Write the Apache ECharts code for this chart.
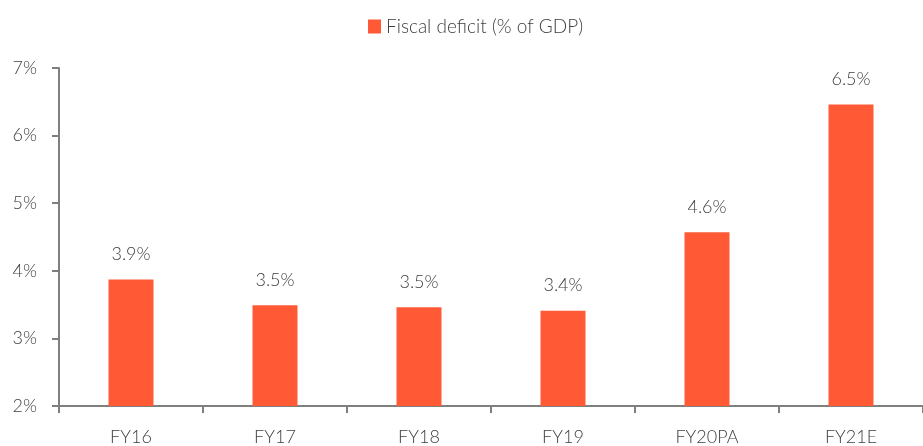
<!DOCTYPE html>
<html>
<head>
<meta charset="utf-8">
<script src="https://cdn.jsdelivr.net/npm/echarts@6/dist/echarts.min.js"></script>
<style>
  html, body { margin: 0; padding: 0; background: #fff; }
  #chart { width: 923px; height: 446px; }
</style>
</head>
<body>
<div id="chart"></div>
<script>
const categories = ['FY16', 'FY17', 'FY18', 'FY19', 'FY20PA', 'FY21E']
const deficit = [3.87, 3.49, 3.46, 3.41, 4.57, 6.46]
const seriesName = 'Fiscal deficit (% of GDP)'

const textColor = '#404040'
const axisColor = '#7f7f7f'
const font = 'Lato'
const fontSize = 18

const chart = echarts.init(document.getElementById('chart'))

const option = {
  animation: false,
  legend: {
    left: 363,
    top: 12,
    itemWidth: 13,
    itemHeight: 14,
    itemGap: 6,
    textStyle: { color: textColor, fontSize: 19, fontFamily: font, fontWeight: 300 },
    data: [{ name: seriesName, icon: 'rect' }]
  },
  grid: {
    left: 59,
    top: 68,
    width: 868,
    height: 340,
    containLabel: false
  },
  xAxis: {
    type: 'category',
    data: categories,
    axisLine: { lineStyle: { color: axisColor, width: 2 } },
    axisTick: { show: true, length: 7, lineStyle: { color: axisColor, width: 2 } },
    axisLabel: { color: textColor, fontSize: fontSize, fontFamily: font, fontWeight: 300, margin: 22 }
  },
  yAxis: {
    type: 'value',
    min: 2,
    max: 7,
    interval: 1,
    axisLine: { show: true, lineStyle: { color: axisColor, width: 2 } },
    axisTick: { show: true, length: 7, lineStyle: { color: axisColor, width: 2 } },
    splitLine: { show: false },
    axisLabel: {
      color: textColor, fontSize: fontSize, fontFamily: font, fontWeight: 300, margin: 22,
      formatter: v => v + '%'
    }
  },
  series: [
    {
      name: seriesName,
      type: 'bar',
      data: deficit,
      barWidth: 45,
      itemStyle: { color: '#ff5a35' },
      label: {
        show: true,
        position: 'top',
        distance: 16,
        color: textColor,
        fontSize: fontSize,
        fontFamily: font,
        fontWeight: 300,
        formatter: p => p.value.toFixed(1) + '%'
      }
    }
  ]
}

chart.setOption(option)
</script>
</body>
</html>
